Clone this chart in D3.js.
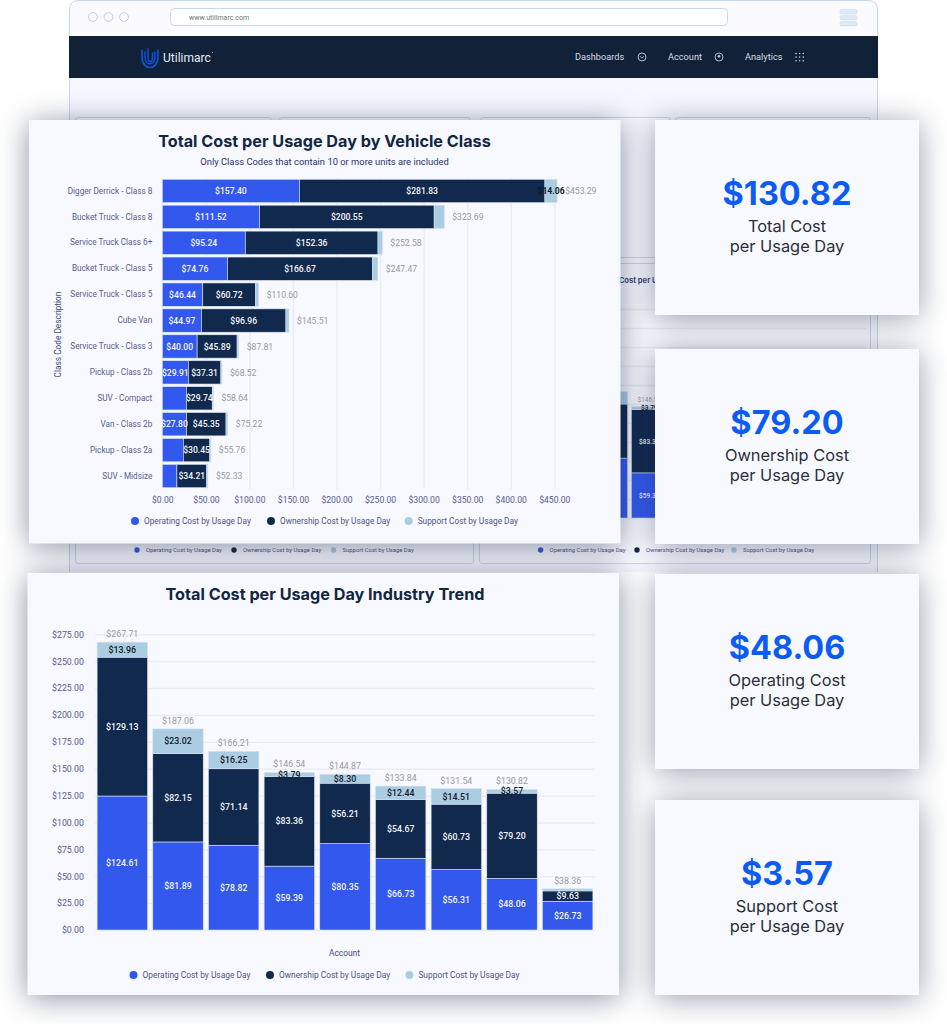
<!DOCTYPE html>
<html>
<head>
<meta charset="utf-8">
<title>Total Cost per Usage Day</title>
<script src="https://cdn.jsdelivr.net/npm/d3@7"></script>
<style>
	html, body { margin: 0; padding: 0; background: #fff; }
	svg { display: block; }
	text { font-family: Roboto, sans-serif; }
	.heading { font-family: Inter, sans-serif; }
	.card { fill: #f8f8ff; filter: drop-shadow(0 3px 15px rgba(26, 42, 74, 0.52)); }
	.stat-card { fill: #f8f9ff; filter: drop-shadow(0 3px 15px rgba(26, 42, 74, 0.46)); }
	.axis path { display: none; }
	.axis line { stroke: #ebebf1; stroke-width: 1.4; }
	.axis text { fill: #56608f; }
</style>
</head>
<body>
<svg id="chart" width="947" height="1024"></svg>
<script>
const classNames = ['Digger Derrick - Class 8', 'Bucket Truck - Class 8', 'Service Truck Class 6+', 'Bucket Truck - Class 5', 'Service Truck - Class 5', 'Cube Van', 'Service Truck - Class 3', 'Pickup - Class 2b', 'SUV - Compact', 'Van - Class 2b', 'Pickup - Class 2a', 'SUV - Midsize']
const classOperating = [157.40, 111.52, 95.24, 74.76, 46.44, 44.97, 40.00, 29.91, 27.6, 27.80, 24.1, 16.8]
const classOwnership = [281.83, 200.55, 152.36, 166.67, 60.72, 96.96, 45.89, 37.31, 29.74, 45.35, 30.45, 34.21]
const classSupport = [14.06, 11.62, 4.98, 6.04, 3.44, 3.58, 1.92, 1.30, 1.30, 2.07, 1.21, 1.32]
const classTotals = [453.29, 323.69, 252.58, 247.47, 110.60, 145.51, 87.81, 68.52, 58.64, 75.22, 55.76, 52.33]
const classTicks = [0, 50, 100, 150, 200, 250, 300, 350, 400, 450]

const accounts = ['A', 'B', 'C', 'D', 'E', 'F', 'G', 'H', 'I']
const trendOperating = [124.61, 81.89, 78.82, 59.39, 80.35, 66.73, 56.31, 48.06, 26.73]
const trendOwnership = [129.13, 82.15, 71.14, 83.36, 56.21, 54.67, 60.73, 79.20, 9.63]
const trendSupport = [13.96, 23.02, 16.25, 3.79, 8.30, 12.44, 14.51, 3.57, 2.00]
const trendTotals = [267.71, 187.06, 166.21, 146.54, 144.87, 133.84, 131.54, 130.82, 38.36]
const trendTicks = [0, 25, 50, 75, 100, 125, 150, 175, 200, 225, 250, 275]

const seriesNames = ['Operating Cost by Usage Day', 'Ownership Cost by Usage Day', 'Support Cost by Usage Day']
const seriesColors = ['#3358ee', '#11294d', '#abcde2']

const statValues = ['$130.82', '$79.20', '$48.06', '$3.57']
const statLabels = [['Total Cost', 'per Usage Day'], ['Ownership Cost', 'per Usage Day'], ['Operating Cost', 'per Usage Day'], ['Support Cost', 'per Usage Day']]
const navItems = ['Dashboards', 'Account', 'Analytics']

const money = d => `$${d.toFixed(2)}`
const svg = d3.select('#chart')

function stackRows(names, operating, ownership, support, totals) {
	return names.map((name, i) => ({
		name,
		total: totals[i],
		parts: [
			{ key: 0, start: 0, value: operating[i] },
			{ key: 1, start: operating[i], value: ownership[i] },
			{ key: 2, start: operating[i] + ownership[i], value: support[i] }
		]
	}))
}

function drawLegend(g, positions, y, size, radius, textOffset) {
	seriesNames.forEach((name, i) => {
		g.append('circle')
			.attr('cx', positions[i])
			.attr('cy', y)
			.attr('r', radius)
			.attr('fill', seriesColors[i])
		g.append('text')
			.attr('x', positions[i] + textOffset)
			.attr('y', y + size * 0.36)
			.attr('font-size', size)
			.attr('fill', '#4b5687')
			.text(name)
	})
}

function drawTrendBars(g, rows, x, y, labelSize, labelled = () => true) {
	const bars = g.selectAll('g.bar').data(rows).join('g').attr('class', 'bar')
	bars.selectAll('rect')
		.data(d => d.parts)
		.join('rect')
		.attr('x', function () { return x(d3.select(this.parentNode).datum().name) })
		.attr('width', x.bandwidth())
		.attr('y', d => y(d.start + d.value))
		.attr('height', d => y(d.start) - y(d.start + d.value))
		.attr('fill', d => seriesColors[d.key])
		.attr('stroke', '#d9e4f5')
		.attr('stroke-width', 0.6)
	const shown = bars.filter(labelled)
	shown.selectAll('text.part')
		.data(d => d.parts.filter(p => p.key < 2 || p.value > 3))
		.join('text')
		.attr('class', 'part')
		.attr('x', function () { return x(d3.select(this.parentNode).datum().name) + x.bandwidth() / 2 })
		.attr('y', d => y(d.start + d.value / 2) + labelSize * 0.36)
		.attr('text-anchor', 'middle')
		.attr('font-size', labelSize)
		.attr('font-weight', 500)
		.attr('fill', d => d.key === 2 ? '#14182a' : '#f3f5fb')
		.text(d => money(d.value))
	shown.append('text')
		.attr('x', d => x(d.name) + x.bandwidth() / 2)
		.attr('y', d => y(d.total) - 5)
		.attr('text-anchor', 'middle')
		.attr('font-size', labelSize)
		.attr('fill', '#9a9aa2')
		.text(d => money(d.total))
}

function drawBrowserFrame() {
	const frame = svg.append('g')
	frame.append('path')
		.attr('d', 'M69.5,572 V10 Q69.5,0.5 79,0.5 H868 Q877.5,0.5 877.5,10 V572')
		.attr('fill', '#fbfbfd')
		.attr('stroke', '#c6d8ea')
	frame.append('rect').attr('x', 70).attr('y', 78).attr('width', 807).attr('height', 494).attr('fill', '#f6f8ff')
	frame.append('rect').attr('x', 69).attr('y', 36).attr('width', 809).attr('height', 42).attr('fill', '#112138')

	d3.range(3).forEach(i => {
		frame.append('circle')
			.attr('cx', 93 + i * 15.5)
			.attr('cy', 17)
			.attr('r', 4.4)
			.attr('fill', 'none')
			.attr('stroke', '#bcd0e6')
		frame.append('rect')
			.attr('x', 840)
			.attr('y', 9.5 + i * 6)
			.attr('width', 17)
			.attr('height', 4.4)
			.attr('rx', 1.4)
			.attr('fill', '#dcebf5')
			.attr('stroke', '#c6dbea')
			.attr('stroke-width', 0.5)
	})
	frame.append('rect')
		.attr('x', 170.5)
		.attr('y', 8.5)
		.attr('width', 557)
		.attr('height', 17)
		.attr('rx', 4)
		.attr('fill', '#fff')
		.attr('stroke', '#c6d8ea')
	frame.append('text').attr('x', 189).attr('y', 20).attr('font-size', 7).attr('fill', '#6f7480').text('www.utilimarc.com')

	const logo = frame.append('g').attr('fill', 'none').attr('stroke', '#0c55e0').attr('stroke-linecap', 'round')
	logo.append('path').attr('d', 'M142,50 V57 C142,71 158,71 158,57 V50').attr('stroke-width', 1.6)
	logo.append('path').attr('d', 'M145,52 V57 C145,66 155,66 155,57 V52').attr('stroke-width', 1.4)
	logo.append('path').attr('d', 'M148,49 V58 C148,63 152.5,63 152.5,58 V53').attr('stroke-width', 1.4)
	frame.append('text')
		.attr('x', 163)
		.attr('y', 61.5)
		.attr('font-size', 12)
		.attr('fill', '#e8ecf4')
		.text('Utilimarc')
	frame.append('circle').attr('cx', 212.5).attr('cy', 52.5).attr('r', 0.6).attr('fill', '#c4cad6')

	const navX = [575, 668, 745]
	navItems.forEach((item, i) => {
		frame.append('text')
			.attr('x', navX[i])
			.attr('y', 60.3)
			.attr('font-size', 9.2)
			.attr('fill', '#d6dbe4')
			.text(item)
	})
	const iconX = [642, 719]
	iconX.forEach(cx => {
		frame.append('circle')
			.attr('cx', cx)
			.attr('cy', 57)
			.attr('r', 4)
			.attr('fill', 'none')
			.attr('stroke', '#c4cad6')
			.attr('stroke-width', 0.9)
	})
	frame.append('path')
		.attr('d', 'M640,56.2 L642,58.2 L644,56.2')
		.attr('fill', 'none')
		.attr('stroke', '#c4cad6')
		.attr('stroke-width', 0.9)
	frame.append('circle').attr('cx', 719).attr('cy', 56.2).attr('r', 1.3).attr('fill', '#c4cad6')
	d3.range(9).forEach(i => {
		frame.append('circle')
			.attr('cx', 796 + (i % 3) * 3.6)
			.attr('cy', 53.5 + Math.floor(i / 3) * 3.6)
			.attr('r', 0.8)
			.attr('fill', '#c4cad6')
	})
}

// the dashboard that sits behind the floating cards, same trend data at a smaller size
function drawBackdrop(rows) {
	const back = svg.append('g')
	const panels = [[75, 117, 196, 140], [279, 117, 191, 140], [480, 117, 190, 140], [675, 117, 195, 140], [75, 263, 398, 300], [479, 263, 391, 300]]
	panels.forEach(p => {
		back.append('rect')
			.attr('x', p[0] + 0.5)
			.attr('y', p[1] + 0.5)
			.attr('width', p[2])
			.attr('height', p[3])
			.attr('rx', 3)
			.attr('fill', '#f8f9ff')
			.attr('stroke', '#cfd5e2')
	})
	const x = d3.scaleBand().domain(accounts).range([511, 866.5]).paddingInner(0.094).paddingOuter(0.047)
	const y = d3.scaleLinear().domain([0, 275]).range([518, 309])
	back.append('g')
		.attr('class', 'axis')
		.attr('transform', 'translate(511,0)')
		.call(d3.axisLeft(y).tickValues(trendTicks).tickSize(-355).tickFormat(''))
	// only these two bars show between the cards
	drawTrendBars(back.append('g'), rows.slice(2, 4), x, y, 6.5, d => d.name === 'D')
	back.append('text')
		.attr('class', 'heading')
		.attr('x', 598.5)
		.attr('y', 283)
		.attr('font-size', 7.6)
		.attr('font-weight', 700)
		.attr('fill', '#3a4a7a')
		.text('Total Cost per Usage Day Industry Trend')
	drawLegend(back.append('g'), [137, 234, 333.5], 550, 5.9, 2.7, 9)
	drawLegend(back.append('g'), [540.6, 637, 734], 550, 5.9, 2.7, 9)
}

function drawClassChart(rows) {
	const g = svg.append('g')
	g.append('rect').attr('class', 'card').attr('x', 29).attr('y', 120).attr('width', 591.5).attr('height', 423.5)
	g.append('text')
		.attr('class', 'heading')
		.attr('x', 324.5)
		.attr('y', 147)
		.attr('text-anchor', 'middle')
		.attr('font-size', 16.2)
		.attr('font-weight', 700)
		.attr('fill', '#11263f')
		.text('Total Cost per Usage Day by Vehicle Class')
	g.append('text')
		.attr('x', 324.5)
		.attr('y', 165)
		.attr('text-anchor', 'middle')
		.attr('font-size', 9.4)
		.attr('fill', '#27336b')
		.text('Only Class Codes that contain 10 or more units are included')

	const x = d3.scaleLinear().domain([0, 450]).range([162.3, 554.3])
	const y = d3.scaleBand().domain(classNames).range([178, 489]).paddingInner(0.1).paddingOuter(0.05)

	g.append('g')
		.attr('class', 'axis')
		.attr('transform', 'translate(0,489)')
		.call(d3.axisBottom(x).tickValues(classTicks).tickSize(-311).tickPadding(8).tickFormat(money))
		.selectAll('text')
		.attr('font-size', 8.6)
	g.append('g')
		.attr('class', 'axis')
		.attr('transform', 'translate(162.3,0)')
		.call(d3.axisLeft(y).tickSize(0).tickPadding(10))
		.selectAll('text')
		.attr('font-size', 8.2)

	const bars = g.selectAll('g.bar').data(rows).join('g').attr('class', 'bar')
	bars.selectAll('rect')
		.data(d => d.parts.map(p => ({ ...p, name: d.name })))
		.join('rect')
		.attr('x', d => x(d.start))
		.attr('y', d => y(d.name))
		.attr('width', d => x(d.start + d.value) - x(d.start))
		.attr('height', y.bandwidth())
		.attr('fill', d => seriesColors[d.key])
		.attr('stroke', '#d9e4f5')
		.attr('stroke-width', 0.6)
	// narrow segments lose their label, as in the source
	bars.selectAll('text.part')
		.data(d => d.parts.map(p => ({ ...p, name: d.name })).filter(p => (p.key === 0 && p.value >= 27.7) || p.key === 1 || (p.key === 2 && p.value >= 14)))
		.join('text')
		.attr('class', 'part')
		.attr('x', d => x(d.start + d.value / 2))
		.attr('y', d => y(d.name) + y.bandwidth() / 2 + 3.2)
		.attr('text-anchor', 'middle')
		.attr('font-size', 8.6)
		.attr('font-weight', d => d.key === 2 ? 700 : 500)
		.attr('fill', d => d.key === 2 ? '#14182a' : '#f3f5fb')
		.text(d => money(d.value))
	bars.append('text')
		.attr('x', d => x(d.total) + 8)
		.attr('y', d => y(d.name) + y.bandwidth() / 2 + 3.2)
		.attr('font-size', 8.6)
		.attr('fill', '#9a9aa2')
		.text(d => money(d.total))

	g.append('text')
		.attr('transform', 'translate(61,334.5) rotate(-90)')
		.attr('text-anchor', 'middle')
		.attr('font-size', 8.3)
		.attr('fill', '#414c80')
		.text('Class Code Description')
	drawLegend(g.append('g'), [135, 271, 408.7], 521, 8.3, 4, 9)
}

function drawTrendChart(rows) {
	const g = svg.append('g')
	g.append('rect').attr('class', 'card').attr('x', 27.5).attr('y', 573).attr('width', 591.5).attr('height', 422)
	g.append('text')
		.attr('class', 'heading')
		.attr('x', 325)
		.attr('y', 600)
		.attr('text-anchor', 'middle')
		.attr('font-size', 16.2)
		.attr('font-weight', 700)
		.attr('fill', '#11263f')
		.text('Total Cost per Usage Day Industry Trend')

	const x = d3.scaleBand().domain(accounts).range([94.5, 595.5]).paddingInner(0.094).paddingOuter(0.047)
	const y = d3.scaleLinear().domain([0, 275]).range([930, 634.3])

	g.append('g')
		.attr('class', 'axis')
		.attr('transform', 'translate(95,0)')
		.call(d3.axisLeft(y).tickValues(trendTicks).tickSize(-500).tickPadding(11).tickFormat(money))
		.selectAll('text')
		.attr('font-size', 8.8)
	drawTrendBars(g.append('g'), rows, x, y, 8.8)

	g.append('text')
		.attr('x', 344.5)
		.attr('y', 956)
		.attr('text-anchor', 'middle')
		.attr('font-size', 8.4)
		.attr('fill', '#414c80')
		.text('Account')
	drawLegend(g.append('g'), [133.5, 270, 409.4], 975, 8.4, 4, 9)
}

function drawStatCards() {
	const tops = [120, 349, 574, 800]
	tops.forEach((top, i) => {
		const g = svg.append('g').attr('transform', `translate(655,${top})`)
		g.append('rect').attr('class', 'stat-card').attr('width', 264).attr('height', 195)
		g.append('text')
			.attr('class', 'heading')
			.attr('x', 132)
			.attr('y', 85)
			.attr('text-anchor', 'middle')
			.attr('font-size', 32.5)
			.attr('font-weight', 700)
			.attr('fill', '#0b5cf5')
			.text(statValues[i])
		statLabels[i].forEach((line, j) => {
			g.append('text')
				.attr('class', 'heading')
				.attr('x', 132)
				.attr('y', 112 + j * 20)
				.attr('text-anchor', 'middle')
				.attr('font-size', 16.4)
				.attr('fill', '#2b2f3a')
				.text(line)
		})
	})
}

const classRows = stackRows(classNames, classOperating, classOwnership, classSupport, classTotals)
const trendRows = stackRows(accounts, trendOperating, trendOwnership, trendSupport, trendTotals)

drawBrowserFrame()
drawBackdrop(trendRows)
drawStatCards()
drawClassChart(classRows)
drawTrendChart(trendRows)
</script>
</body>
</html>
